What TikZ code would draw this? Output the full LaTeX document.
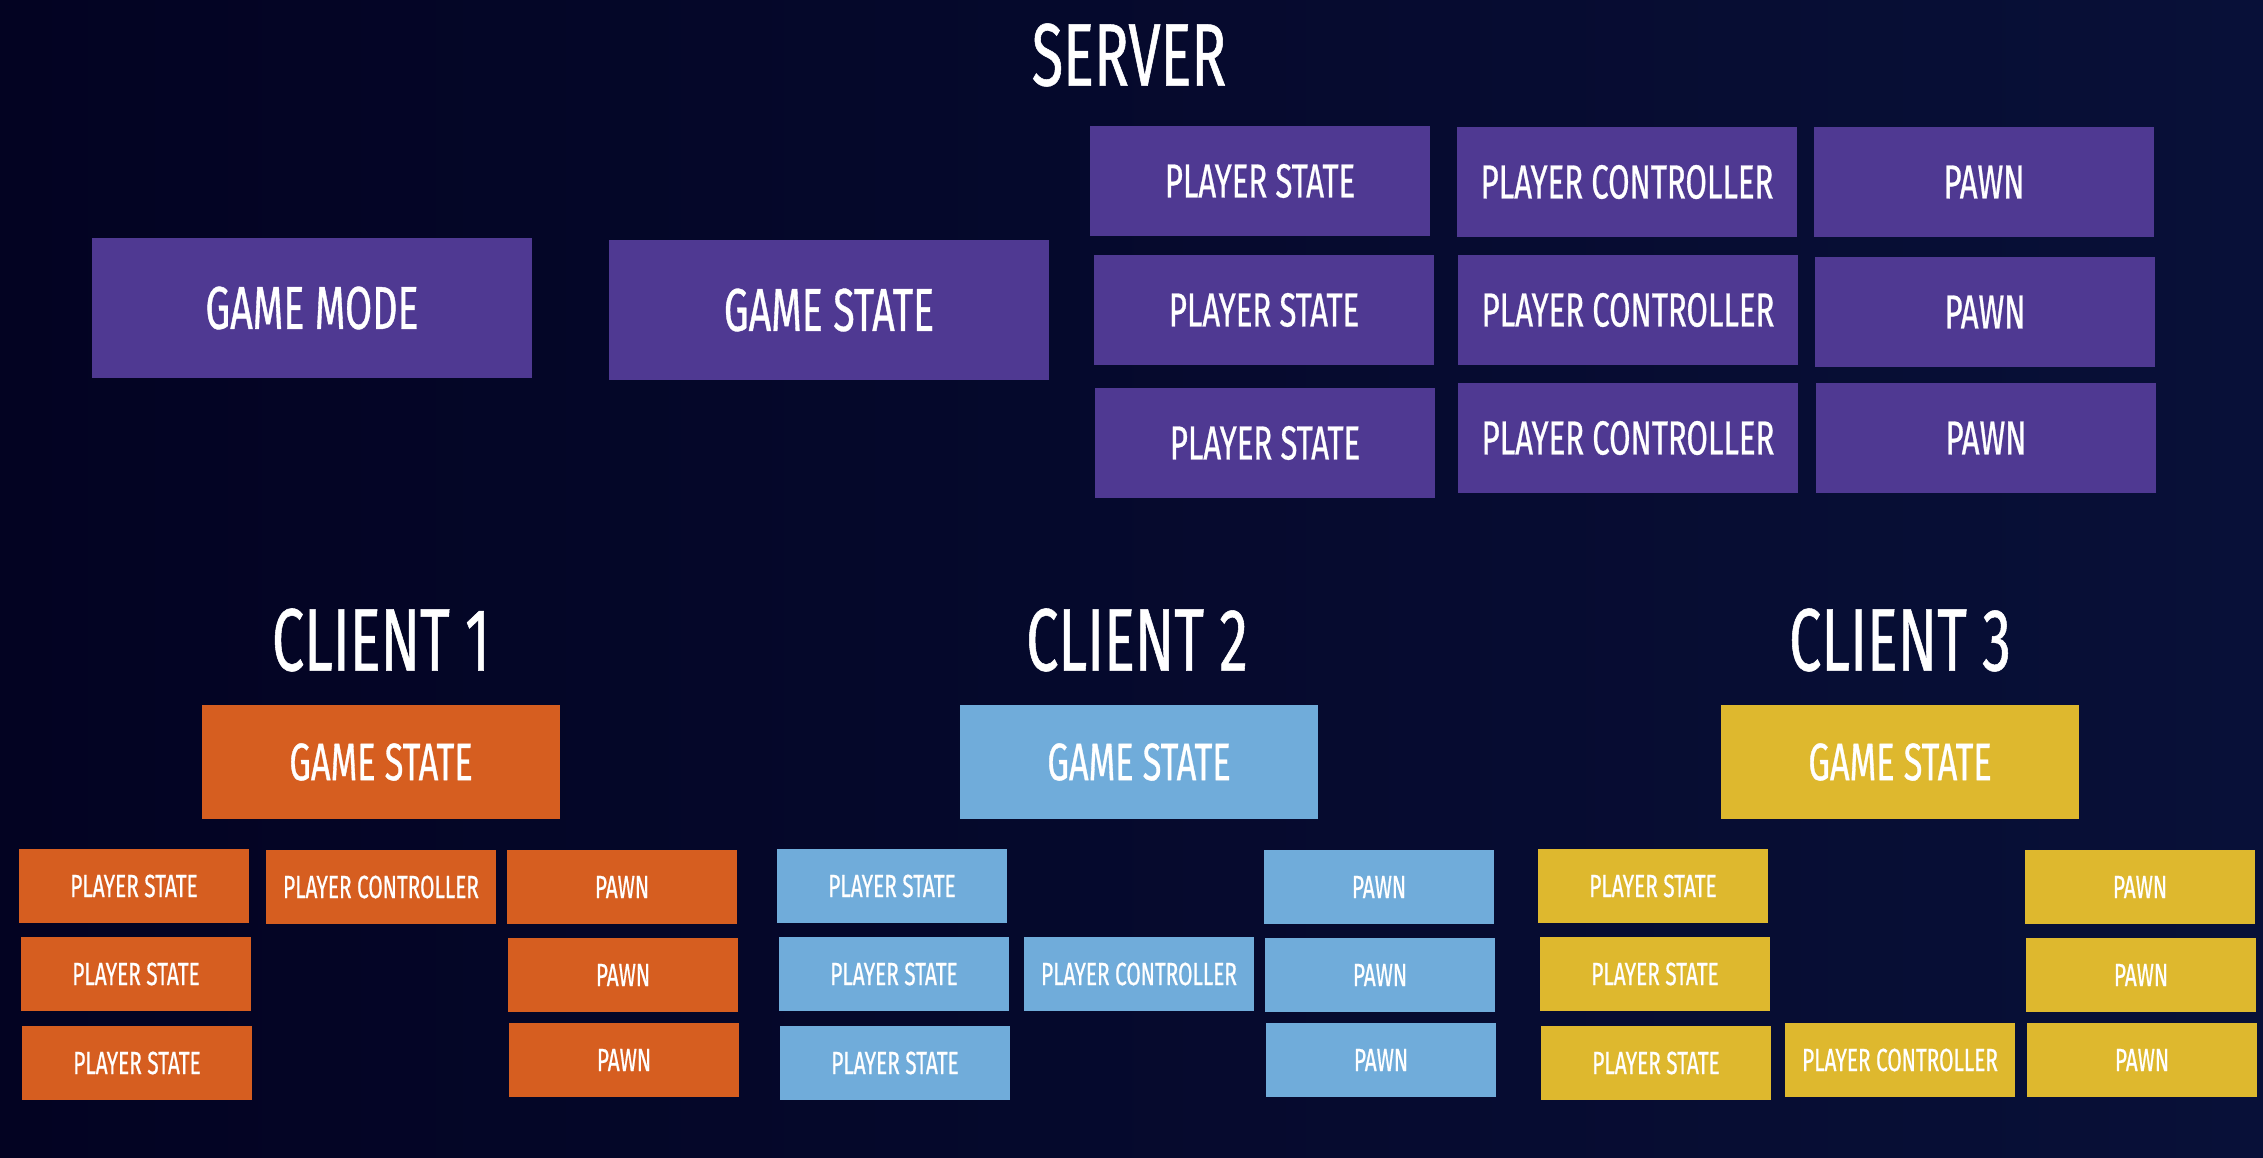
\documentclass[tikz,border=0pt]{standalone}
\usepackage{fontspec}
\setmainfont{Fira Sans}[FakeStretch=0.65, FakeBold=0.6]
\usetikzlibrary{positioning}

\definecolor{srvpurple}{HTML}{4F3992}
\definecolor{cl1orange}{HTML}{D65E20}
\definecolor{cl2blue}{HTML}{70ACDA}
\definecolor{cl3yellow}{HTML}{DEB82E}
\definecolor{bgleft}{HTML}{030322}
\definecolor{bgmid}{HTML}{01011A}
\definecolor{bgright}{HTML}{081038}

\begin{document}
\begin{tikzpicture}[
            x = 0.01cm, y = -0.01cm, % one unit per pixel, y downwards
            title/.style = {text = white, font = \fontsize{25.2}{30}\selectfont},
            box/.style = {text = white, inner sep = 0pt, align = center},
            bigbox/.style = {box, minimum width = 4.4cm, minimum height = 1.39cm,
                             font = \fontsize{17.2}{20}\selectfont},
            srvbox/.style = {box, fill = srvpurple, minimum width = 3.4cm,
                             minimum height = 1.09cm, font = \fontsize{13.6}{16}\selectfont},
            gsbox/.style = {box, minimum width = 3.57cm, minimum height = 1.14cm,
                            font = \fontsize{15}{18}\selectfont},
            smallbox/.style = {box, minimum width = 2.29cm, minimum height = 0.745cm,
                               font = \fontsize{9.1}{11}\selectfont}
        ]

        % background
        \shade[left color = bgleft, middle color = bgmid, right color = bgright]
            (0,0) rectangle (2263,1157);
        \useasboundingbox (0,0) rectangle (2263,1157);

        % server side
        \node (server) [title] at (1129,55) {SERVER};
        \node (gamemode) [bigbox, fill = srvpurple] at (312,308) {GAME MODE};
        \node (gamestate) [bigbox, fill = srvpurple] at (829,310) {GAME STATE};

        \node (sps1) [srvbox] at (1260,181) {PLAYER STATE};
        \node (sps2) [srvbox] at (1264,310) {PLAYER STATE};
        \node (sps3) [srvbox] at (1265,443) {PLAYER STATE};
        \node (spc1) [srvbox] at (1627,182) {PLAYER CONTROLLER};
        \node (spc2) [srvbox] at (1628,310) {PLAYER CONTROLLER};
        \node (spc3) [srvbox] at (1628,438) {PLAYER CONTROLLER};
        \node (spawn1) [srvbox] at (1984,182) {PAWN};
        \node (spawn2) [srvbox] at (1985,312) {PAWN};
        \node (spawn3) [srvbox] at (1986,438) {PAWN};

        % client 1
        \node (client1) [title] at (381,640) {CLIENT 1};
        \node (gs1) [gsbox, fill = cl1orange] at (381,762) {GAME STATE};
        \node (ps1a) [smallbox, fill = cl1orange] at (134,886) {PLAYER STATE};
        \node (ps1b) [smallbox, fill = cl1orange] at (136,974) {PLAYER STATE};
        \node (ps1c) [smallbox, fill = cl1orange] at (137,1063) {PLAYER STATE};
        \node (pc1) [smallbox, fill = cl1orange] at (381,887) {PLAYER CONTROLLER};
        \node (pawn1a) [smallbox, fill = cl1orange] at (622,887) {PAWN};
        \node (pawn1b) [smallbox, fill = cl1orange] at (623,975) {PAWN};
        \node (pawn1c) [smallbox, fill = cl1orange] at (624,1060) {PAWN};

        % client 2
        \node (client2) [title] at (1137,640) {CLIENT 2};
        \node (gs2) [gsbox, fill = cl2blue] at (1139,762) {GAME STATE};
        \node (ps2a) [smallbox, fill = cl2blue] at (892,886) {PLAYER STATE};
        \node (ps2b) [smallbox, fill = cl2blue] at (894,974) {PLAYER STATE};
        \node (ps2c) [smallbox, fill = cl2blue] at (895,1063) {PLAYER STATE};
        \node (pc2) [smallbox, fill = cl2blue] at (1139,974) {PLAYER CONTROLLER};
        \node (pawn2a) [smallbox, fill = cl2blue] at (1379,887) {PAWN};
        \node (pawn2b) [smallbox, fill = cl2blue] at (1380,975) {PAWN};
        \node (pawn2c) [smallbox, fill = cl2blue] at (1381,1060) {PAWN};

        % client 3
        \node (client3) [title] at (1900,640) {CLIENT 3};
        \node (gs3) [gsbox, fill = cl3yellow] at (1900,762) {GAME STATE};
        \node (ps3a) [smallbox, fill = cl3yellow] at (1653,886) {PLAYER STATE};
        \node (ps3b) [smallbox, fill = cl3yellow] at (1655,974) {PLAYER STATE};
        \node (ps3c) [smallbox, fill = cl3yellow] at (1656,1063) {PLAYER STATE};
        \node (pc3) [smallbox, fill = cl3yellow] at (1900,1060) {PLAYER CONTROLLER};
        \node (pawn3a) [smallbox, fill = cl3yellow] at (2140,887) {PAWN};
        \node (pawn3b) [smallbox, fill = cl3yellow] at (2141,975) {PAWN};
        \node (pawn3c) [smallbox, fill = cl3yellow] at (2142,1060) {PAWN};

    \end{tikzpicture}
\end{document}
